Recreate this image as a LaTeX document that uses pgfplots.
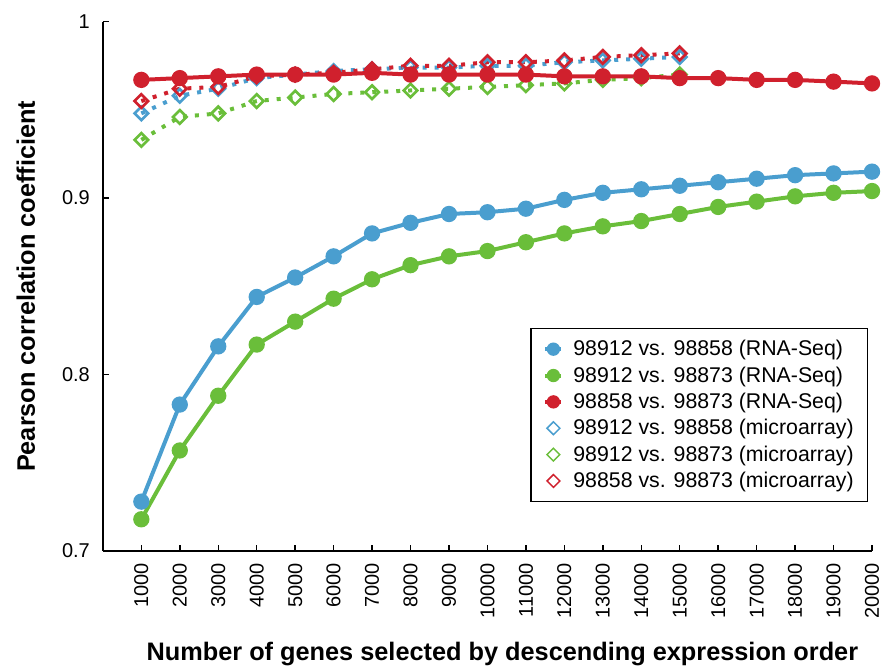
\documentclass[border=0pt]{standalone}
\usepackage{fontspec}
\setmainfont{Liberation Sans}
\usepackage{pgfplots}
\pgfplotsset{compat=1.18}
\definecolor{cblue}{RGB}{74,158,207}
\definecolor{cgreen}{RGB}{106,190,58}
\definecolor{cred}{RGB}{208,32,45}
\pgfplotsset{
  circleleg/.style={legend image code/.code={%
    \path (0pt,0pt) (20.5pt,0pt);
    \draw[#1, line width=3pt] (1pt,0pt) -- (13pt,0pt);
    \draw[#1, only marks, mark=*, mark size=4.5pt] plot coordinates {(7pt,0pt)};}},
  diamleg/.style={legend image code/.code={%
    \path (0pt,0pt) (20.5pt,0pt);
    \draw[#1, only marks, mark=square, mark size=3.4pt, mark options={rotate=45, line width=1.1pt}] plot coordinates {(7pt,0pt)};}},
}
\begin{document}
\begin{tikzpicture}
\begin{axis}[
  width=577.5pt, height=397.5pt, scale only axis,
  xmin=0, xmax=20000, ymin=0.7, ymax=1,
  axis x line*=bottom, axis y line*=left,
  axis line style={line width=1.4pt},
  major tick length=4.5pt,
  every tick/.style={line width=1.1pt, black},
  scaled x ticks=false,
  xtick={1000,2000,3000,4000,5000,6000,7000,8000,9000,10000,11000,12000,13000,14000,15000,16000,17000,18000,19000,20000},
  xticklabels={1000,2000,3000,4000,5000,6000,7000,8000,9000,10000,11000,12000,13000,14000,15000,16000,17000,18000,19000,20000},
  ytick={0.7,0.8,0.9,1}, yticklabels={0.7,0.8,0.9,1},
  x tick label style={rotate=90, anchor=east, xshift=-5.5pt, font=\fontsize{15}{17}\selectfont},
  y tick label style={anchor=east, xshift=-6.25pt, font=\fontsize{15}{17}\selectfont},
  /pgf/number format/assume math mode=true,
  xlabel={Number of genes selected by descending expression order},
  ylabel={Pearson correlation coefficient},
  xlabel style={at={(axis description cs:0.5,0)}, anchor=base, yshift=-82.5pt, xshift=11.25pt},
  ylabel style={at={(axis description cs:0,0.5)}, anchor=base, yshift=51pt},
  label style={font=\bfseries\fontsize{19}{21}\selectfont},
  clip=false,
  legend style={at={(0.9948,0.0925)}, anchor=south east, draw=black, line width=1pt,
    font=\fontsize{16}{18}\selectfont, row sep=4.7pt, inner xsep=9.25pt, inner ysep=7.8pt,
    nodes={inner xsep=1pt, inner ysep=1pt}},
  legend cell align=left,
]
% microarray
\addplot[forget plot, cgreen, line width=3pt, dash pattern=on 3pt off 6pt, mark=square, mark size=3.6pt, mark options={solid, rotate=45, line width=2pt, fill=white}] coordinates {
(1000,0.933)(2000,0.946)(3000,0.948)(4000,0.955)(5000,0.957)(6000,0.959)(7000,0.960)(8000,0.961)(9000,0.962)(10000,0.963)(11000,0.964)(12000,0.965)(13000,0.967)(14000,0.968)(15000,0.970)};
\addplot[forget plot, cblue, line width=3pt, dash pattern=on 3pt off 6pt, mark=square, mark size=3.6pt, mark options={solid, rotate=45, line width=2pt, fill=white}] coordinates {
(1000,0.948)(2000,0.958)(3000,0.962)(4000,0.968)(5000,0.970)(6000,0.972)(7000,0.973)(8000,0.974)(9000,0.974)(10000,0.975)(11000,0.975)(12000,0.977)(13000,0.978)(14000,0.979)(15000,0.980)};
\addplot[forget plot, cred, line width=3pt, dash pattern=on 3pt off 6pt, mark=square, mark size=3.6pt, mark options={solid, rotate=45, line width=2pt, fill=white}] coordinates {
(1000,0.955)(2000,0.962)(3000,0.963)(4000,0.969)(5000,0.970)(6000,0.971)(7000,0.973)(8000,0.975)(9000,0.975)(10000,0.977)(11000,0.977)(12000,0.978)(13000,0.980)(14000,0.981)(15000,0.982)};
% RNA-Seq
\addplot[forget plot, cblue, line width=3pt, mark=*, mark size=4.6pt] coordinates {
(1000,0.728)(2000,0.783)(3000,0.816)(4000,0.844)(5000,0.855)(6000,0.867)(7000,0.880)(8000,0.886)(9000,0.891)(10000,0.892)(11000,0.894)(12000,0.899)(13000,0.903)(14000,0.905)(15000,0.907)(16000,0.909)(17000,0.911)(18000,0.913)(19000,0.914)(20000,0.915)};
\addplot[forget plot, cgreen, line width=3pt, mark=*, mark size=4.6pt] coordinates {
(1000,0.718)(2000,0.757)(3000,0.788)(4000,0.817)(5000,0.830)(6000,0.843)(7000,0.854)(8000,0.862)(9000,0.867)(10000,0.870)(11000,0.875)(12000,0.880)(13000,0.884)(14000,0.887)(15000,0.891)(16000,0.895)(17000,0.898)(18000,0.901)(19000,0.903)(20000,0.904)};
\addplot[forget plot, cred, line width=3pt, mark=*, mark size=4.6pt] coordinates {
(1000,0.967)(2000,0.968)(3000,0.969)(4000,0.970)(5000,0.970)(6000,0.970)(7000,0.971)(8000,0.970)(9000,0.970)(10000,0.970)(11000,0.970)(12000,0.969)(13000,0.969)(14000,0.969)(15000,0.968)(16000,0.968)(17000,0.967)(18000,0.967)(19000,0.966)(20000,0.965)};
% legend
\addlegendimage{circleleg=cblue}
\addlegendentry{98912 vs. 98858 (RNA-Seq)}
\addlegendimage{circleleg=cgreen}
\addlegendentry{98912 vs. 98873 (RNA-Seq)}
\addlegendimage{circleleg=cred}
\addlegendentry{98858 vs. 98873 (RNA-Seq)}
\addlegendimage{diamleg=cblue}
\addlegendentry{98912 vs. 98858 (microarray)}
\addlegendimage{diamleg=cgreen}
\addlegendentry{98912 vs. 98873 (microarray)}
\addlegendimage{diamleg=cred}
\addlegendentry{98858 vs. 98873 (microarray)}
\end{axis}
\pgfresetboundingbox
\path[use as bounding box] ([xshift=-77.25pt, yshift=-87.75pt]current axis.south west) rectangle ([xshift=7.5pt, yshift=16.25pt]current axis.north east);
\end{tikzpicture}
\end{document}
